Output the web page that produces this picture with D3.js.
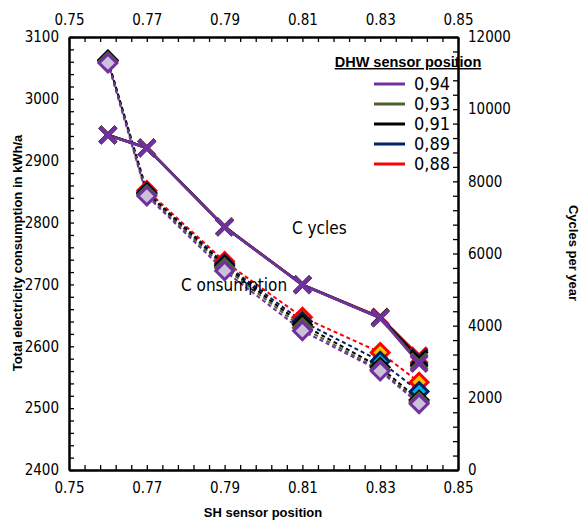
<!DOCTYPE html>
<html>
<head>
<meta charset="utf-8">
<script src="https://cdn.jsdelivr.net/npm/d3@7"></script>
<style>
  body { margin: 0; background: #fff; }
  svg text { font-family: "Liberation Sans Narrow", "DejaVu Sans Condensed", sans-serif; }
</style>
</head>
<body>
<svg id="chart" width="580" height="521"></svg>
<script>
// SH sensor positions (x)
var shPositions = [0.76, 0.77, 0.79, 0.81, 0.83, 0.84];

// DHW sensor positions, drawn bottom-to-top
var dhwLabels = ["0,88", "0,89", "0,91", "0,93", "0,94"];

// consumption in kWh/a (left axis)
var consumption088 = [3062, 2852, 2737, 2647, 2590, 2542];
var consumption089 = [3063, 2849, 2733, 2640, 2576, 2527];
var consumption091 = [3062, 2847, 2730, 2635, 2566, 2513];
var consumption093 = [3060, 2845, 2727, 2630, 2562, 2510];
var consumption094 = [3058, 2843, 2722, 2625, 2560, 2507];

// cycles per year (right axis)
var cycles088 = [9290, 8930, 6740, 5140, 4240, 3170];
var cycles089 = [9285, 8928, 6738, 5135, 4225, 3120];
var cycles091 = [9283, 8925, 6735, 5132, 4220, 3070];
var cycles093 = [9282, 8924, 6734, 5130, 4215, 3000];
var cycles094 = [9280, 8920, 6730, 5128, 4210, 2950];

var xTicks = [0.75, 0.77, 0.79, 0.81, 0.83, 0.85];
var leftTicks = [2400, 2500, 2600, 2700, 2800, 2900, 3000, 3100];
var rightTicks = [0, 2000, 4000, 6000, 8000, 10000, 12000];

var series = [
  {label: dhwLabels[0], color: "#ff0000", fill: "#ffc000", cons: consumption088, cyc: cycles088},
  {label: dhwLabels[1], color: "#002060", fill: "#00b0f0", cons: consumption089, cyc: cycles089},
  {label: dhwLabels[2], color: "#000000", fill: "#808080", cons: consumption091, cyc: cycles091},
  {label: dhwLabels[3], color: "#4f6228", fill: "#9bbb59", cons: consumption093, cyc: cycles093},
  {label: dhwLabels[4], color: "#7030a0", fill: "#ccc0da", cons: consumption094, cyc: cycles094}
];

var svg = d3.select("#chart");
var pLeft = 69, pRight = 458, pTop = 37, pBottom = 470;

var x = d3.scaleLinear().domain([0.75, 0.85]).range([pLeft, pRight]);
var yL = d3.scaleLinear().domain([2400, 3100]).range([pBottom, pTop]);
var yR = d3.scaleLinear().domain([0, 12000]).range([pBottom, pTop]);

// minor ticks
var xMinor = d3.range(0, 26).map(function(i){ return 0.75 + i * 0.004; });
var lMinor = d3.range(0, 36).map(function(i){ return 2400 + i * 20; });
var rMinor = d3.range(0, 31).map(function(i){ return i * 400; });

function styleAxis(g, size) {
  g.select(".domain").attr("stroke", "#000").attr("stroke-width", 2);
  g.selectAll(".tick line").attr("stroke", "#000").attr("stroke-width", 1.3);
  g.selectAll(".tick text").attr("font-size", size).attr("fill", "#000")
    .style("font-family", "'Liberation Sans Narrow', 'DejaVu Sans Condensed', sans-serif");
}

// minor tick axes (no labels)
svg.append("g").attr("transform", "translate(0," + pBottom + ")")
  .call(d3.axisTop(x).tickValues(xMinor).tickSize(5).tickSizeOuter(0).tickFormat("")).call(styleAxis, 14);
svg.append("g").attr("transform", "translate(0," + pTop + ")")
  .call(d3.axisBottom(x).tickValues(xMinor).tickSize(5).tickSizeOuter(0).tickFormat("")).call(styleAxis, 14);
svg.append("g").attr("transform", "translate(" + pLeft + ",0)")
  .call(d3.axisRight(yL).tickValues(lMinor).tickSize(5).tickSizeOuter(0).tickFormat("")).call(styleAxis, 14);
svg.append("g").attr("transform", "translate(" + pRight + ",0)")
  .call(d3.axisLeft(yR).tickValues(rMinor).tickSize(5).tickSizeOuter(0).tickFormat("")).call(styleAxis, 14);

// labelled axes
svg.append("g").attr("transform", "translate(0," + pBottom + ")")
  .call(d3.axisBottom(x).tickValues(xTicks).tickSize(0).tickPadding(12).tickFormat(d3.format(".2f")))
  .call(styleAxis, 15);
svg.append("g").attr("transform", "translate(0," + pTop + ")")
  .call(d3.axisTop(x).tickValues(xTicks).tickSize(0).tickPadding(12).tickFormat(d3.format(".2f")))
  .call(styleAxis, 15);
svg.append("g").attr("transform", "translate(" + pLeft + ",0)")
  .call(d3.axisLeft(yL).tickValues(leftTicks).tickSize(0).tickPadding(10).tickFormat(d3.format("d")))
  .call(styleAxis, 15);
svg.append("g").attr("transform", "translate(" + pRight + ",0)")
  .call(d3.axisRight(yR).tickValues(rightTicks).tickSize(0).tickPadding(10).tickFormat(d3.format("d")))
  .call(styleAxis, 15);

// axis titles
svg.append("text").attr("x", 263).attr("y", 517).attr("text-anchor", "middle")
  .attr("font-size", 13).attr("font-weight", "bold")
  .style("font-family", "Arial, 'Liberation Sans', sans-serif")
  .text("SH sensor position");
svg.append("text").attr("transform", "translate(22,253) rotate(-90)").attr("text-anchor", "middle")
  .attr("font-size", 13).attr("font-weight", "bold")
  .style("font-family", "Arial, 'Liberation Sans', sans-serif")
  .text("Total electricity consumption in kWh/a");
svg.append("text").attr("transform", "translate(569,253) rotate(90)").attr("text-anchor", "middle")
  .attr("font-size", 13).attr("font-weight", "bold")
  .style("font-family", "Arial, 'Liberation Sans', sans-serif")
  .text("Cycles per year");

var consLine = d3.line().x(function(d, i){ return x(shPositions[i]); }).y(function(d){ return yL(d); });
var cycLine = d3.line().x(function(d, i){ return x(shPositions[i]); }).y(function(d){ return yR(d); });

var diamond = d3.symbol().type(d3.symbolDiamond2).size(200);
var cross = d3.symbol().type(d3.symbolTimes).size(170);

series.forEach(function(s) {
  svg.append("path").datum(s.cons).attr("d", consLine)
    .attr("fill", "none").attr("stroke", s.color).attr("stroke-width", 2)
    .attr("stroke-dasharray", "4,3");
  svg.append("path").datum(s.cyc).attr("d", cycLine)
    .attr("fill", "none").attr("stroke", s.color).attr("stroke-width", 2.5);
});

series.forEach(function(s) {
  svg.selectAll(null).data(s.cons).enter().append("path")
    .attr("d", diamond)
    .attr("transform", function(d, i){ return "translate(" + x(shPositions[i]) + "," + yL(d) + ")"; })
    .attr("fill", s.fill).attr("stroke", s.color).attr("stroke-width", 3);
  svg.selectAll(null).data(s.cyc).enter().append("path")
    .attr("d", cross)
    .attr("transform", function(d, i){ return "translate(" + x(shPositions[i]) + "," + yR(d) + ")"; })
    .attr("fill", "none").attr("stroke", s.color).attr("stroke-width", 4);
});

// annotations
svg.append("text").attr("x", 292).attr("y", 234).attr("font-size", 17).text("C ycles");
svg.append("text").attr("x", 181).attr("y", 291).attr("font-size", 17).text("C onsumption");

// legend
var legend = svg.append("g");
legend.append("text").attr("x", 408).attr("y", 67).attr("text-anchor", "middle")
  .attr("font-size", 14.5).attr("font-weight", "bold").attr("text-decoration", "underline")
  .style("font-family", "Arial, 'Liberation Sans', sans-serif")
  .text("DHW sensor position");
series.slice().reverse().forEach(function(s, i) {
  var yy = 84 + i * 20;
  legend.append("line").attr("x1", 374).attr("x2", 405).attr("y1", yy).attr("y2", yy)
    .attr("stroke", s.color).attr("stroke-width", 3);
  legend.append("text").attr("x", 414).attr("y", yy + 6).attr("font-size", 18).text(s.label);
});
</script>
</body>
</html>
